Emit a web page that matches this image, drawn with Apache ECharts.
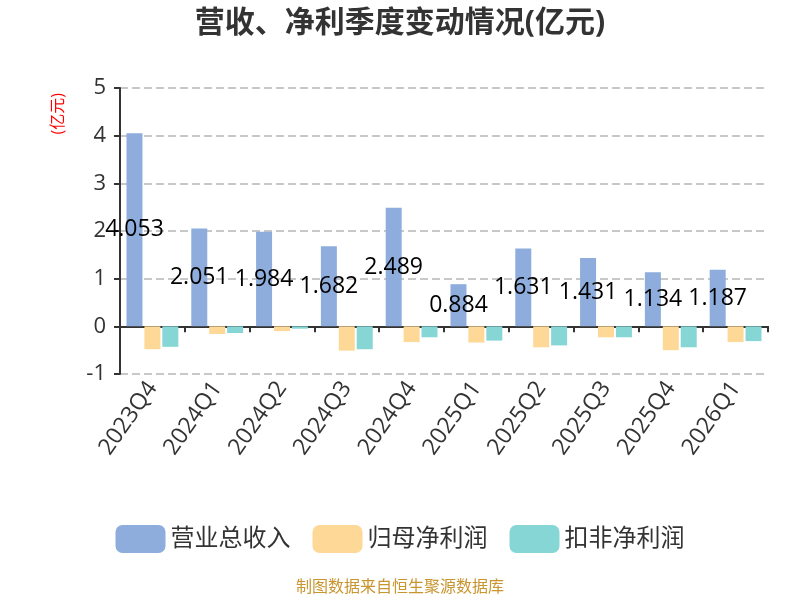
<!DOCTYPE html>
<html>
<head>
<meta charset="utf-8">
<script src="https://cdn.jsdelivr.net/npm/echarts@6/dist/echarts.min.js"></script>
<style>
    html, body { margin: 0; padding: 0; }
    #chart { width: 800px; height: 600px; }
</style>
</head>
<body>
<div id="chart"></div>
<script>
// 季度
var quarters = ['2023Q4', '2024Q1', '2024Q2', '2024Q3', '2024Q4', '2025Q1', '2025Q2', '2025Q3', '2025Q4', '2026Q1'];
// 营业总收入
var revenue = [4.053, 2.051, 1.984, 1.682, 2.489, 0.884, 1.631, 1.431, 1.134, 1.187];
// 归母净利润
var netProfit = [-0.48, -0.16, -0.10, -0.51, -0.33, -0.34, -0.44, -0.23, -0.50, -0.33];
// 扣非净利润
var deductedProfit = [-0.43, -0.14, -0.05, -0.48, -0.23, -0.30, -0.40, -0.23, -0.44, -0.31];

var FONT = "'Open Sans', 'Noto Sans CJK SC', sans-serif";

var myChart = echarts.init(document.getElementById('chart'));

var option = {
    animation: false,
    textStyle: { fontFamily: FONT },
    title: {
        text: '营收、净利季度变动情况(亿元)',
        left: 'center',
        top: 3,
        textStyle: { fontSize: 30, fontWeight: 'bold', color: '#333', fontFamily: FONT }
    },
    grid: { left: 120, right: 32, top: 88, bottom: 226 },
    legend: {
        top: 520,
        left: 'center',
        itemWidth: 50,
        itemHeight: 28,
        itemGap: 22,
        icon: 'roundRect',
        textStyle: { fontSize: 24, color: '#333', fontFamily: FONT },
        data: ['营业总收入', '归母净利润', '扣非净利润']
    },
    graphic: [{
        type: 'text',
        left: 'center',
        top: 579,
        style: { text: '制图数据来自恒生聚源数据库', fill: '#c8952e', fontSize: 16, fontFamily: FONT }
    }, {
        type: 'text',
        left: 50,
        top: 93,
        rotation: Math.PI / 2,
        style: { text: '(亿元)', fill: '#ff0000', fontSize: 16, fontFamily: FONT }
    }],
    xAxis: {
        type: 'category',
        data: quarters,
        axisLine: { lineStyle: { color: '#333', width: 2 } },
        axisTick: { show: true, length: 6, lineStyle: { color: '#333', width: 2 } },
        axisLabel: { rotate: 55, fontSize: 23, color: '#333', margin: 10, fontFamily: FONT }
    },
    yAxis: {
        type: 'value',
        min: -1,
        max: 5,
        interval: 1,
        axisLine: { show: true, lineStyle: { color: '#333', width: 2 } },
        axisTick: { show: true, length: 6, lineStyle: { color: '#333', width: 2 } },
        axisLabel: { fontSize: 22, color: '#333', margin: 14, fontFamily: FONT },
        splitLine: { lineStyle: { type: 'dashed', color: '#c8c8c8', width: 2 } }
    },
    series: [
        {
            name: '营业总收入',
            type: 'bar',
            data: revenue,
            barWidth: 16,
            barGap: '12%',
            barCategoryGap: '20%',
            itemStyle: { color: '#8eaddc' },
            label: {
                show: true,
                position: 'inside',
                color: '#000',
                fontSize: 23,
                fontFamily: FONT,
                formatter: function (p) { return p.value.toFixed(3); }
            }
        },
        {
            name: '归母净利润',
            type: 'bar',
            data: netProfit,
            barWidth: 16,
            itemStyle: { color: '#fed897' }
        },
        {
            name: '扣非净利润',
            type: 'bar',
            data: deductedProfit,
            barWidth: 16,
            itemStyle: { color: '#87d6d6' }
        }
    ]
};

myChart.setOption(option);
</script>
</body>
</html>
